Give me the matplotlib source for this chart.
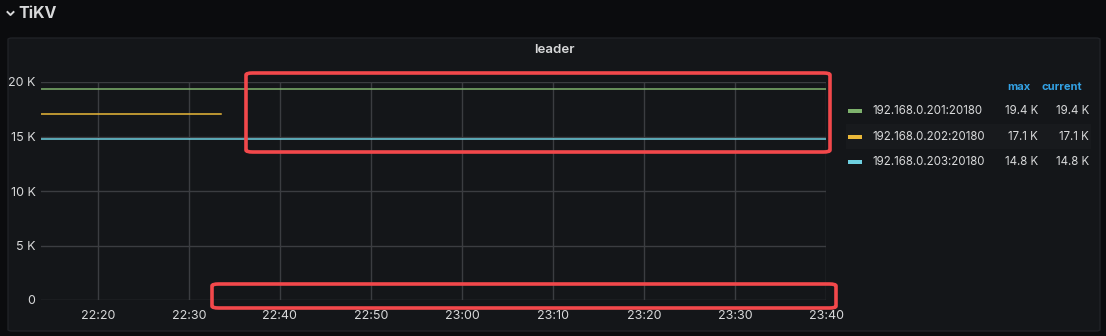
import matplotlib
matplotlib.use('Agg')
import matplotlib.pyplot as plt
import matplotlib.dates as mdates
from matplotlib.patches import FancyBboxPatch, Rectangle
from matplotlib.lines import Line2D
import pandas as pd

# ---- data ----
series_names = ['192.168.0.201:20180', '192.168.0.202:20180', '192.168.0.203:20180']
series_colors = ['#7eb26d', '#eab839', '#6ed0e0']
green_times = ['2021-01-01 22:13:45', '2021-01-01 22:40:00', '2021-01-01 23:10:00', '2021-01-01 23:40:00']
green_vals = [19400, 19400, 19400, 19400]
yellow_times = ['2021-01-01 22:13:45', '2021-01-01 22:25:00', '2021-01-01 22:33:30']
yellow_vals = [17100, 17100, 17100]
cyan_times = ['2021-01-01 22:13:45', '2021-01-01 22:40:00', '2021-01-01 23:10:00', '2021-01-01 23:40:00']
cyan_vals = [14800, 14800, 14800, 14800]
legend_max = ['19.4 K', '17.1 K', '14.8 K']
legend_current = ['19.4 K', '17.1 K', '14.8 K']
y_ticks = [0, 5000, 10000, 15000, 20000]
y_labels = ['0', '5 K', '10 K', '15 K', '20 K']
x_start, x_end = '2021-01-01 22:13:45', '2021-01-01 23:40:00'

W, H = 1106, 336
plt.rcParams['font.family'] = ['Inter', 'DejaVu Sans']
text_col = '#d8d9da'

fig = plt.figure(figsize=(W / 100, H / 100), dpi=100)
fig.patch.set_facecolor('#0b0c0e')

# panel background (behind axes)
fig.patches.append(FancyBboxPatch((8 / W, (H - 331) / H), 1092 / W, 293 / H,
                                  boxstyle='round,pad=0,rounding_size=0.004',
                                  transform=fig.transFigure, facecolor='#141619',
                                  edgecolor='#202226', linewidth=1, zorder=-10))

# row title with chevron
fig.lines.append(Line2D([7.5 / W, 10.5 / W, 13.5 / W], [1 - 12 / H, 1 - 15 / H, 1 - 12 / H],
                        transform=fig.transFigure, color=text_col, linewidth=1.4))
fig.text(18 / W, 1 - 13 / H, 'TiKV', color=text_col, fontsize=11.5, fontweight='bold',
         va='center', ha='left')
# panel title
fig.text(554 / W, 1 - 50 / H, 'leader', color=text_col, fontsize=9.5, fontweight='semibold',
         va='center', ha='center')

# axes
ax = fig.add_axes([41 / W, (H - 300) / H, (826 - 41) / W, (300 - 82) / H])
ax.set_facecolor('#141619')
for s in ax.spines.values():
    s.set_visible(False)

all_times = [green_times, yellow_times, cyan_times]
all_vals = [green_vals, yellow_vals, cyan_vals]
for t, v, c in zip(all_times, all_vals, series_colors):
    ax.plot(pd.to_datetime(t), v, color=c, linewidth=1.1, zorder=3)

ax.set_xlim(pd.Timestamp(x_start), pd.Timestamp(x_end))
ax.set_ylim(0, 20000)
ax.set_yticks(y_ticks)
ax.set_yticklabels(y_labels)
ax.xaxis.set_major_locator(mdates.MinuteLocator(byminute=range(0, 60, 10)))
ax.xaxis.set_major_formatter(mdates.DateFormatter('%H:%M'))
ax.grid(True, color='#3b3d41', linewidth=1, zorder=0)
ax.tick_params(colors=text_col, labelsize=9, length=0, pad=7)
ax.tick_params(axis='y', pad=4)

# red annotation boxes
for (x0, y0, x1, y1) in [(246, 73, 830, 152), (212, 284, 836, 308)]:
    fig.patches.append(FancyBboxPatch((x0 / W, 1 - y1 / H), (x1 - x0) / W, (y1 - y0) / H,
                                      boxstyle='round,pad=0,rounding_size=0.006',
                                      transform=fig.transFigure, facecolor='none',
                                      edgecolor='#f2484b', linewidth=2.6, zorder=10))

# legend
fig.text(1030 / W, 1 - 87 / H, 'max', color='#33a2e5', fontsize=8, fontweight='bold',
         ha='right', va='center')
fig.text(1082 / W, 1 - 87 / H, 'current', color='#33a2e5', fontsize=8, fontweight='bold',
         ha='right', va='center')
fig.patches.append(Rectangle((846 / W, 1 - 149 / H), 245 / W, 25 / H, transform=fig.transFigure,
                             facecolor='#181a1d', edgecolor='none'))
row_y = [111, 136.5, 162]
for name, c, mx, cur, y in zip(series_names, series_colors, legend_max, legend_current, row_y):
    fig.patches.append(Rectangle((848 / W, 1 - (y + 2) / H), 14 / W, 4 / H,
                                 transform=fig.transFigure, facecolor=c, edgecolor='none'))
    fig.text(872 / W, 1 - y / H, name, color=text_col, fontsize=8.3, ha='left', va='center')
    fig.text(1038 / W, 1 - y / H, mx, color=text_col, fontsize=8.3, ha='right', va='center')
    fig.text(1089 / W, 1 - y / H, cur, color=text_col, fontsize=8.3, ha='right', va='center')

fig.savefig('out.png', dpi=100, facecolor=fig.get_facecolor())
